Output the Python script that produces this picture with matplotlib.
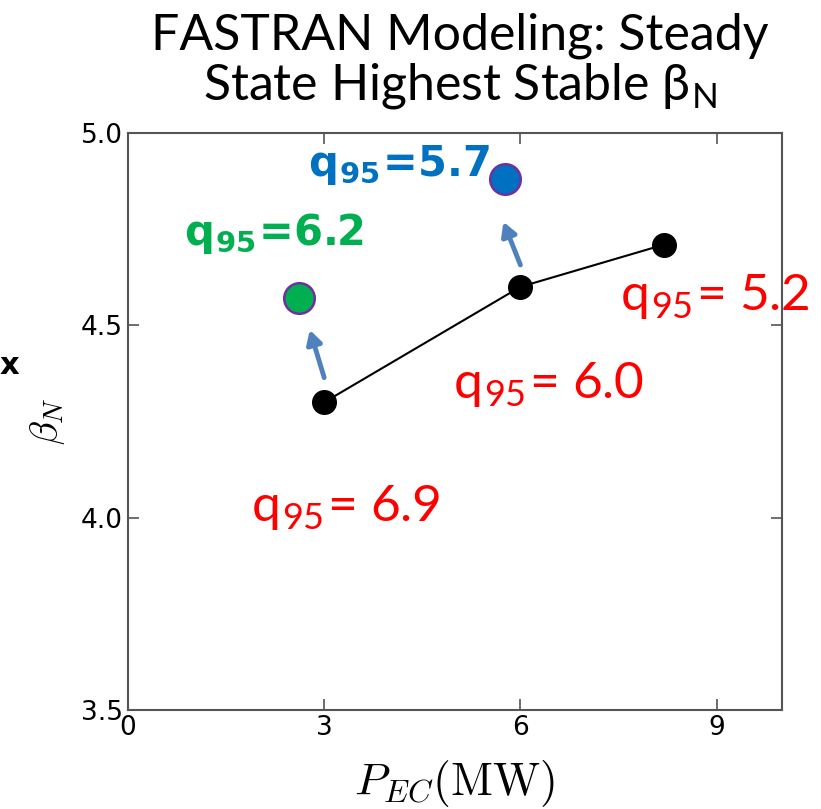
import matplotlib
matplotlib.use('Agg')
import matplotlib.pyplot as plt

# steady state scan (black line)
ec_power = [3.0, 6.0, 8.2]
beta_n = [4.30, 4.60, 4.71]
q95_scan = ['6.9', '6.0', '5.2']

# improved cases (coloured dots)
ec_new = [2.62, 5.77]
beta_new = [4.57, 4.88]
q95_new = ['6.2', '5.7']
new_colors = ['#00B050', '#0070C0']

plt.rcParams['mathtext.fontset'] = 'cm'
gothic = ['Lato', 'DejaVu Sans']

fig = plt.figure(figsize=(8.21, 8.09), dpi=100)
ax = fig.add_axes([0.1559, 0.1224, 0.7966, 0.7132])

ax.plot(ec_power, beta_n, color='black', lw=1.5, marker='o', markersize=17, zorder=3)
for x, y, c in zip(ec_new, beta_new, new_colors):
    ax.plot(x, y, 'o', markersize=22, color=c, markeredgecolor='#7030A0',
            markeredgewidth=1.8, zorder=4)

# arrows from scan points to improved points
arrow_tails = [(3.0, 4.364), (6.0, 4.657)]
arrow_heads = [(2.78, 4.488), (5.74, 4.769)]
for (x0, y0), (x1, y1) in zip(arrow_tails, arrow_heads):
    ax.annotate('', xy=(x1, y1), xytext=(x0, y0),
                arrowprops=dict(arrowstyle='-|>,head_length=0.8,head_width=0.45',
                                color='#4F81BD', lw=3.5, shrinkA=0, shrinkB=0))

# red labels for scan
red_pos = [(1.88, 4.026), (4.97, 4.345), (7.52, 4.574)]
for (x, y), q in zip(red_pos, q95_scan):
    ax.text(x, y, 'q$_\\mathregular{95}$= ' + q, color='#FF0000', fontsize=37,
            family=gothic, ha='left', va='center', clip_on=False)

new_pos = [(0.85, 4.74), (2.75, 4.917)]
for (x, y), q, c in zip(new_pos, q95_new, new_colors):
    ax.text(x, y, 'q$_\\mathregular{95}$=' + q, color=c, fontsize=30,
            fontweight='bold', family='DejaVu Sans', ha='left', va='center',
            clip_on=False)

ax.set_xlim(0, 10)
ax.set_ylim(3.5, 5.0)
ax.set_xticks([0, 3, 6, 9])
ax.set_yticks([3.5, 4.0, 4.5, 5.0])
ax.set_yticklabels(['3.5', '4.0', '4.5', '5.0'])
ax.tick_params(direction='in', top=True, right=True, length=8, width=1.2,
               labelsize=19, color='#555555')
for s in ax.spines.values():
    s.set_color('#555555')
    s.set_linewidth(1.5)

ax.set_xlabel('$P_{EC}(\\mathrm{MW})$', fontsize=33, labelpad=12)
ax.set_ylabel('$\\beta_N$', fontsize=28, labelpad=10)

fig.text(0.56, 0.985, 'FASTRAN Modeling: Steady\nState Highest Stable β$_\\mathregular{N}$',
         ha='center', va='top', fontsize=36, family=gothic, fontweight='normal',
         linespacing=1.05)
fig.text(0.0, 0.548, 'x', fontsize=22, fontweight='bold', ha='left', va='center')

plt.savefig('out.png', dpi=100)
